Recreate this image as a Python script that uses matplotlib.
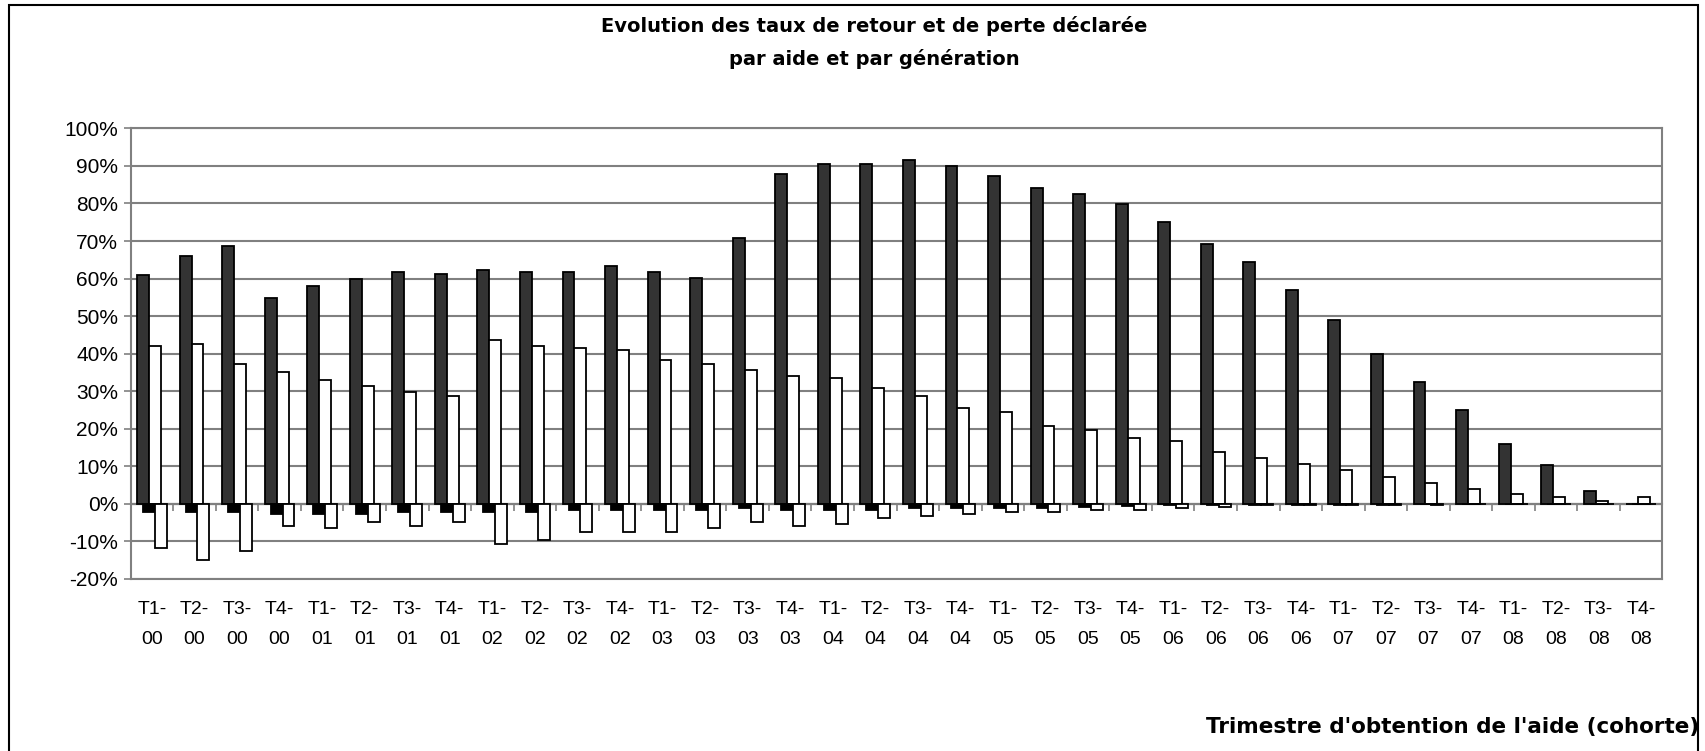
import numpy as np
import matplotlib.pyplot as plt
from matplotlib.patches import Rectangle
from matplotlib.ticker import FixedLocator, PercentFormatter

plt.rcParams['font.family'] = ['Liberation Sans', 'DejaVu Sans']
plt.rcParams['axes.unicode_minus'] = False

# cohorts (quarter of aid obtention)
labels = [f"T{q}-\n{y:02d}" for y in range(0, 9) for q in range(1, 5)]

# return rate (black, positive part / negative part)
retour_pos = [61.0, 66.0, 68.7, 54.8, 58.0, 59.8, 61.8, 61.3, 62.3, 61.8, 61.8, 63.4,
              61.8, 60.1, 70.8, 87.8, 90.5, 90.5, 91.6, 90.0, 87.3, 84.1, 82.5, 79.9,
              75.1, 69.2, 64.5, 57.0, 49.0, 40.0, 32.5, 25.1, 16.0, 10.2, 3.3, 0.0]
retour_neg = [-2.2, -2.2, -2.2, -2.7, -2.7, -2.7, -2.2, -2.2, -2.2, -2.2, -1.8, -1.6,
              -1.6, -1.6, -1.2, -1.6, -1.6, -1.6, -1.2, -1.2, -1.2, -1.2, -1.0, -0.6,
              -0.4, -0.3, -0.4, -0.3, -0.3, -0.3, 0.0, 0.0, 0.0, 0.0, 0.0, 0.0]
# declared loss rate (white, positive part / negative part)
perte_pos = [42.0, 42.6, 37.3, 35.2, 33.1, 31.5, 29.9, 28.8, 43.7, 42.0, 41.6, 41.0,
             38.4, 37.3, 35.7, 34.1, 33.6, 30.9, 28.8, 25.5, 24.5, 20.7, 19.7, 17.6,
             16.6, 13.9, 12.3, 10.7, 9.1, 7.0, 5.4, 3.8, 2.7, 1.7, 0.6, 1.7]
perte_neg = [-11.7, -14.9, -12.7, -5.8, -6.4, -4.8, -5.8, -4.8, -10.6, -9.6, -7.4, -7.4,
             -7.4, -6.4, -4.8, -5.8, -5.3, -3.7, -3.2, -2.7, -2.1, -2.1, -1.6, -1.6,
             -1.1, -1.0, -0.4, -0.3, -0.3, -0.3, -0.3, 0.0, 0.0, 0.0, 0.0, 0.0]

x = np.arange(len(labels))
w = 0.28

fig = plt.figure(figsize=(17.06, 7.51), dpi=100)
ax = fig.add_axes([0.0766, 0.2293, 0.8979, 0.5997])

kw = dict(width=w, edgecolor='black', linewidth=1.3, zorder=3)
ax.bar(x - 0.07 - w / 2, retour_pos, color='#333333', **kw)
ax.bar(x - 0.07 + w / 2, perte_pos, color='white', **kw)
ax.bar(x + 0.07 - w / 2, retour_neg, color='black', **kw)
ax.bar(x + 0.07 + w / 2, perte_neg, color='white', **kw)

ax.set_xlim(-0.5, len(labels) - 0.5)
ax.set_ylim(-20, 100)
ax.set_yticks(range(-20, 101, 10))
ax.yaxis.set_major_formatter(PercentFormatter(decimals=0))
ax.grid(axis='y', color='#808080', linewidth=1.5, zorder=0)
for s in ax.spines.values():
    s.set_color('#808080')
    s.set_linewidth(1.5)
ax.tick_params(axis='y', colors='#808080', labelcolor='black', labelsize=15,
               length=5, width=1.2, pad=4)

# zero line with category boundary ticks
ax.axhline(0, color='#808080', linewidth=1.5, zorder=2)
ax.set_xticks([])
ax.xaxis.set_minor_locator(FixedLocator(np.arange(len(labels) + 1) - 0.5))
ax.spines['bottom'].set_position(('data', 0))
ax.tick_params(axis='x', which='minor', direction='out', length=5, width=1.2,
               colors='#808080')
ax.plot([-0.5, len(labels) - 0.5], [-20, -20], color='#808080', linewidth=1.5,
        clip_on=False, zorder=2)

sec = ax.secondary_xaxis(0)
sec.set_xticks(x)
sec.set_xticklabels(labels, fontsize=14, linespacing=2.0)
sec.tick_params(length=0, pad=16)
sec.spines['bottom'].set_visible(False)

tfont = dict(family='DejaVu Sans', fontweight='bold')
fig.text(0.5125, 0.965, "Evolution des taux de retour et de perte déclarée",
         ha='center', va='center', fontsize=14, **tfont)
fig.text(0.5125, 0.921, "par aide et par génération",
         ha='center', va='center', fontsize=14, **tfont)
fig.text(0.996, 0.032, "Trimestre d'obtention de l'aide (cohorte)",
         ha='right', va='center', fontsize=15.5, **tfont)

# chart frame
fig.patches.append(Rectangle((0.0055, -0.05), 0.99, 1.043, transform=fig.transFigure,
                             fill=False, edgecolor='black', linewidth=1.5))

fig.savefig('out.png', dpi=100)
